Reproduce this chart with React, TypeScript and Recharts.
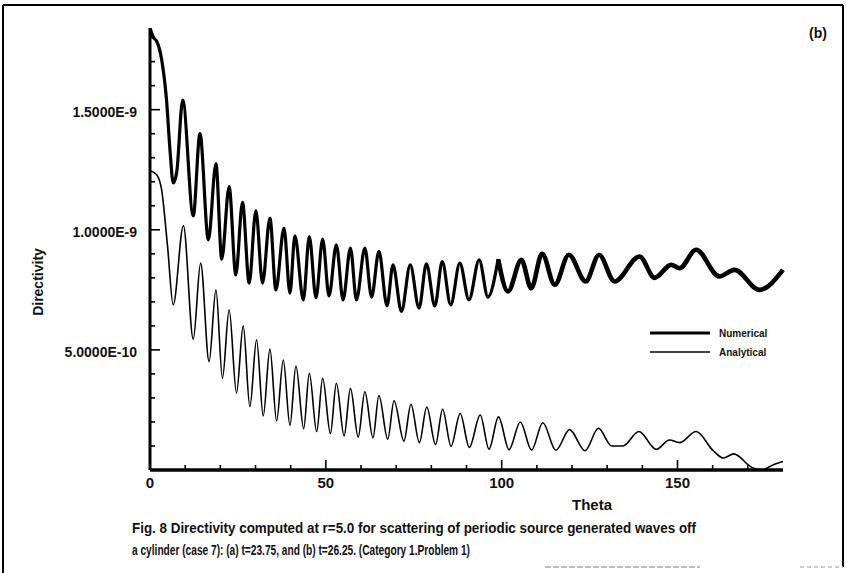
import React from 'react';
import { LineChart, Line, XAxis, YAxis } from 'recharts';

// Directivity vs. theta, values in units of 1E-9. Pairs are [theta, directivity].
// The numerical curve is split in two so the noisier tail can be drawn heavier.
const numericalNear: Array<[number, number]> = [
  [0, 1.84], [1, 1.8], [1.9, 1.785], [3.3, 1.71], [4.7, 1.54], [5.7, 1.33], [6.6, 1.195], [7.6, 1.24],
  [9.3, 1.54], [12.3, 1.058], [14.2, 1.4], [16.6, 0.958], [18.75, 1.275], [20.4, 0.878],
  [22.5, 1.18], [24.4, 0.8125], [26.3, 1.114], [28.2, 0.778], [30.1, 1.08], [32.0, 0.778],
  [34.1, 1.049], [35.8, 0.75], [38.1, 1.007], [39.8, 0.736], [41.2, 0.975], [43.6, 0.708],
  [45.3, 0.972], [47.2, 0.717], [49.1, 0.961], [50.9, 0.725], [53.0, 0.9375], [54.9, 0.708],
  [57.0, 0.924], [58.7, 0.708], [61.1, 0.924], [63.0, 0.72], [65.1, 0.91], [67.4, 0.683],
  [69.1, 0.854], [71.5, 0.66], [74.0, 0.854], [76.5, 0.674], [78.6, 0.858], [81.0, 0.683],
  [83.1, 0.868], [85.5, 0.6875], [88.1, 0.861], [90.7, 0.708], [93.6, 0.875], [96.1, 0.72],
  [99.0, 0.878],
];

const numericalFar: Array<[number, number]> = [
  [99.0, 0.878], [101.8, 0.743], [105.6, 0.875], [108.4, 0.757], [111.5, 0.9], [115.1, 0.771],
  [119.1, 0.896], [123.9, 0.785], [127.7, 0.896], [132.1, 0.785], [139.2, 0.889], [143.5, 0.8],
  [148.2, 0.854], [150.6, 0.84], [155.3, 0.917], [161.9, 0.806], [166.2, 0.833], [173.3, 0.75],
  [180, 0.833],
];

const analytical: Array<[number, number]> = [
  [0, 1.246], [1.9, 1.229], [3.3, 1.167], [5, 0.93], [6.6, 0.6875], [9.5, 1.017], [12.3, 0.545],
  [14.4, 0.861], [16.8, 0.451], [18.75, 0.75], [20.6, 0.382], [22.5, 0.667], [24.6, 0.32],
  [26.5, 0.6], [28.4, 0.264], [30.3, 0.542], [32.2, 0.225], [34.1, 0.503], [36.0, 0.205],
  [37.9, 0.458], [39.8, 0.185], [41.5, 0.433], [43.7, 0.172], [45.3, 0.403], [47.4, 0.16],
  [49.1, 0.382], [51.3, 0.152], [53, 0.361], [55.2, 0.142], [57, 0.34], [59.2, 0.137],
  [61.1, 0.326], [63.4, 0.134], [65.1, 0.31], [67.6, 0.128], [69.4, 0.288], [72.2, 0.12],
  [74.2, 0.274], [76.6, 0.114], [78.7, 0.262], [81.2, 0.106], [83.2, 0.253], [85.6, 0.099],
  [88.2, 0.235], [90.8, 0.094], [93.9, 0.229], [96.4, 0.087], [99.1, 0.221], [102.1, 0.085],
  [105.3, 0.2], [108.5, 0.083], [111.7, 0.197], [115.4, 0.082], [119.3, 0.168], [123.7, 0.08],
  [127.5, 0.174], [131.3, 0.1], [134.5, 0.1], [139, 0.16], [144, 0.086], [147.7, 0.125],
  [150.6, 0.114], [155.3, 0.16], [160, 0.083], [163, 0.05], [166, 0.067], [171, 0.012],
  [174, 0.0], [177, 0.02], [180, 0.035],
];

const thetaTicks = [0, 10, 20, 30, 40, 50, 60, 70, 80, 90, 100, 110, 120, 130, 140, 150, 160, 170];
const thetaLabels = ['0', '50', '100', '150'];
const dirTicks = [0.1, 0.2, 0.3, 0.4, 0.5, 0.6, 0.7, 0.8, 0.9, 1.0, 1.1, 1.2, 1.3, 1.4, 1.5, 1.6, 1.7, 1.8];
const dirLabels = [0.5, 1.0, 1.5];

const FONT = '"Liberation Sans", Arial, Helvetica, sans-serif';

const toRows = (pairs: Array<[number, number]>) => pairs.map(([theta, value]) => ({ theta, value }));
const nearData = toRows(numericalNear);
const farData = toRows(numericalFar);
const anaData = toRows(analytical);

const fmtDir = (v: number) => (v * 1e-9).toExponential(4).toUpperCase();

const isLabel = (list: number[], v: number) => list.some((l) => Math.abs(l - v) < 1e-6);

// ticks point inward from the axis line, labels only on the major ones
const YTick = (props: any) => {
  const { x, y, payload } = props;
  const major = isLabel(dirLabels, payload.value);
  return (
    <g>
      <line x1={x} x2={x + (major ? 10 : 5)} y1={y} y2={y} stroke="#000" strokeWidth={1.6} />
      {major && (
        <text x={x - 13} y={y + 2} dy="0.35em" textAnchor="end" fontFamily={FONT} fontWeight="bold" fontSize={14} fill="#111">
          {fmtDir(payload.value)}
        </text>
      )}
    </g>
  );
};

const XTick = (props: any) => {
  const { x, y, payload } = props;
  const v = Number(payload.value);
  const label = String(Math.round(v));
  const major = thetaLabels.includes(label) && Math.abs(v - Math.round(v)) < 1e-6;
  return (
    <g>
      {v > 0 && <line x1={x} x2={x} y1={y} y2={y - (major ? 10 : 5)} stroke="#000" strokeWidth={1.6} />}
      {major && (
        <text x={x} y={y + 13} dy="0.35em" textAnchor="middle" fontFamily={FONT} fontWeight="bold" fontSize={15} fill="#111">
          {label}
        </text>
      )}
    </g>
  );
};

export default function App() {
  return (
    <div style={{ position: 'absolute', left: 0, top: 0, width: 846, height: 573, background: '#fff' }}>
      <LineChart width={846} height={573} margin={{ top: 28, right: 63, bottom: 102, left: 149 }}>
        <XAxis
          type="number"
          dataKey="theta"
          domain={[0, 180]}
          ticks={thetaTicks}
          interval={0}
          height={1}
          tickSize={0}
          tickMargin={0}
          tickLine={false}
          axisLine={{ stroke: '#000', strokeWidth: 3.5 }}
          tick={<XTick />}
        />
        <YAxis
          type="number"
          domain={[0, 1.84]}
          ticks={dirTicks}
          interval={0}
          width={1}
          tickSize={0}
          tickMargin={0}
          tickLine={false}
          allowDataOverflow
          axisLine={{ stroke: '#000', strokeWidth: 3 }}
          tick={<YTick />}
        />
        <Line
          data={nearData}
          dataKey="value"
          name="Numerical"
          type="monotone"
          stroke="#000"
          strokeWidth={3.2}
          dot={false}
          isAnimationActive={false}
        />
        <Line
          data={farData}
          dataKey="value"
          name="Numerical (tail)"
          type="monotone"
          stroke="#000"
          strokeWidth={4.6}
          dot={false}
          isAnimationActive={false}
        />
        <Line
          data={anaData}
          dataKey="value"
          name="Analytical"
          type="monotone"
          stroke="#000"
          strokeWidth={1.6}
          dot={false}
          isAnimationActive={false}
        />
      </LineChart>
      <svg width={846} height={573} style={{ position: 'absolute', left: 0, top: 0, pointerEvents: 'none' }}>
        {/* figure frame */}
        <line x1={3} x2={843} y1={5} y2={5} stroke="#000" strokeWidth={2} />
        <line x1={3} x2={3} y1={5} y2={573} stroke="#000" strokeWidth={2} />
        <line x1={843} x2={843} y1={5} y2={567} stroke="#000" strokeWidth={2} />
        <line x1={545} x2={700} y1={567} y2={567} stroke="#aaa" strokeWidth={1.5} strokeDasharray="6 2" />
        <line x1={800} x2={843} y1={567} y2={567} stroke="#bbb" strokeWidth={1.5} strokeDasharray="4 3" />

        <text x={818} y={33} dy="0.35em" textAnchor="middle" fontFamily={FONT} fontWeight="bold" fontSize={14} fill="#111">
          (b)
        </text>

        <text
          x={38}
          y={282}
          dy="0.35em"
          textAnchor="middle"
          transform="rotate(-90 38 282)"
          fontFamily={FONT}
          fontWeight="bold"
          fontSize={14}
          fill="#111"
        >
          Directivity
        </text>
        <text x={592} y={505} dy="0.35em" textAnchor="middle" fontFamily={FONT} fontWeight="bold" fontSize={15} fill="#111">
          Theta
        </text>

        {/* legend */}
        <line x1={650} x2={710} y1={333} y2={333} stroke="#000" strokeWidth={3} />
        <text x={719} y={333} dy="0.35em" fontFamily={FONT} fontWeight="bold" fontSize={10} fill="#111">
          Numerical
        </text>
        <line x1={650} x2={710} y1={352} y2={352} stroke="#000" strokeWidth={1.6} />
        <text x={719} y={352} dy="0.35em" fontFamily={FONT} fontWeight="bold" fontSize={10} fill="#111">
          Analytical
        </text>

        {/* caption */}
        <text x={132} y={528} dy="0.35em" textLength={564} lengthAdjust="spacingAndGlyphs" fontFamily={FONT} fontWeight="bold" fontSize={14} fill="#111">
          Fig. 8 Directivity computed at r=5.0 for scattering of periodic source generated waves off
        </text>
        <text x={132} y={550} dy="0.35em" textLength={338} lengthAdjust="spacingAndGlyphs" fontFamily={FONT} fontWeight="bold" fontSize={14} fill="#111">
          a cylinder (case 7): (a) t=23.75, and (b) t=26.25. (Category 1.Problem 1)
        </text>
      </svg>
    </div>
  );
}
